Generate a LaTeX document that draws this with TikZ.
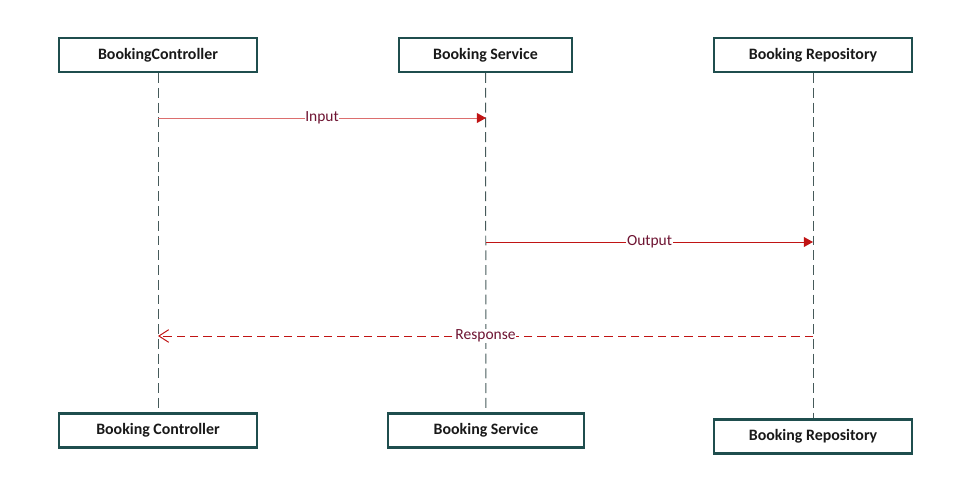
\documentclass[tikz,border=0pt]{standalone}
\usepackage{fontspec}
\setmainfont{Carlito}
\usepackage{xcolor}
\usepackage{tikz}
\usetikzlibrary{arrows.meta, positioning}

\definecolor{boxTeal}{RGB}{31,78,78}
\definecolor{lifeGray}{RGB}{70,90,90}
\definecolor{msgRed}{RGB}{192,20,20}
\definecolor{msgLight}{RGB}{220,110,110}
\definecolor{msgText}{RGB}{110,20,50}

\begin{document}
\begin{tikzpicture}[
  x=0.025cm, y=-0.025cm,
  actorBox/.style={rectangle, draw=boxTeal, line width=1.6pt, fill=white, minimum width=4.95cm, minimum height=0.85cm, font=\fontsize{11.3}{13}\selectfont\bfseries, text=black!90},
  lifeLine/.style={draw=lifeGray, line width=0.7pt, dash pattern=on 7pt off 3.5pt},
  callMsg/.style={line width=0.7pt, -{Triangle[length=6.5pt,width=7pt]}},
  replyMsg/.style={draw=msgRed, line width=0.7pt, dash pattern=on 6pt off 3.5pt, -{Straight Barb[length=7pt,width=9pt]}},
  msgLabel/.style={fill=white, inner sep=0.5pt, text=msgText, font=\fontsize{11}{13}\selectfont}
]
\useasboundingbox (0,0) rectangle (971,480);
\node[actorBox] (ctrlTop) at (158,55) {BookingController};
\node[actorBox, minimum width=4.325cm] (svcTop) at (485.5,55) {Booking Service};
\node[actorBox] (repoTop) at (813,55) {Booking Repository};
\node[actorBox] (ctrlBot) at (158,430.5) {Booking Controller};
\node[actorBox, minimum width=4.9cm] (svcBot) at (486,430.5) {Booking Service};
\node[actorBox] (repoBot) at (813,436.5) {Booking Repository};
\draw[lifeLine] (ctrlTop) -- (ctrlBot);
\draw[lifeLine] (svcTop) -- (svcBot);
\draw[lifeLine] (repoTop) -- (repoBot);
\coordinate (inFrom) at (158,118);
\coordinate (inTo) at (486,118);
\coordinate (outFrom) at (486,242);
\coordinate (outTo) at (813,242);
\coordinate (resFrom) at (813,336);
\coordinate (resTo) at (158,336);
\draw[callMsg, draw=msgLight, arrows={-{Triangle[length=6.5pt,width=7pt,color=msgRed]}}] (inFrom) -- (inTo) node[msgLabel, pos=0.5] {Input};
\draw[callMsg, draw=msgRed, fill=msgRed] (outFrom) -- (outTo) node[msgLabel, pos=0.5] {Output};
\draw[replyMsg] (resFrom) -- (resTo) node[msgLabel, pos=0.5] {Response};
\end{tikzpicture}
\end{document}
